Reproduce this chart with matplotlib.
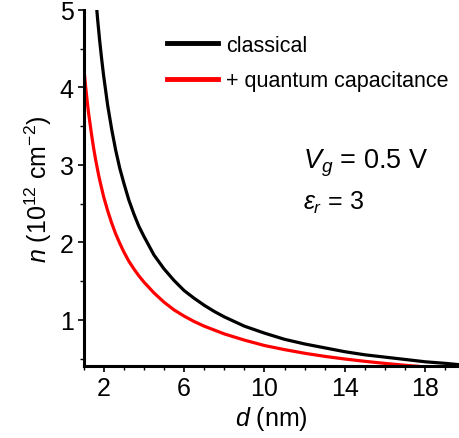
import matplotlib
matplotlib.use('Agg')
import matplotlib.pyplot as plt
from matplotlib.ticker import MultipleLocator, FixedLocator

plt.rcParams['font.family'] = ['Liberation Sans', 'DejaVu Sans']
plt.rcParams['mathtext.fontset'] = 'custom'
plt.rcParams['mathtext.rm'] = 'Liberation Sans'
plt.rcParams['mathtext.it'] = 'Liberation Sans:italic'

# thickness d (nm) and carrier density n (1e12 cm^-2)
d_classical = [1.5, 1.6, 1.7, 1.8, 1.9, 2.0, 2.2, 2.4, 2.6, 2.8, 3.0, 3.25, 3.5, 3.75, 4, 4.5, 5, 5.5,
               6, 6.5, 7, 7.5, 8, 9, 10, 11, 12, 13, 14, 15, 16, 17, 18, 19, 20]
n_classical = [5.53, 5.19, 4.88, 4.61, 4.37, 4.15, 3.77, 3.46, 3.19, 2.96, 2.77, 2.55, 2.37, 2.21,
               2.08, 1.84, 1.66, 1.51, 1.38, 1.28, 1.19, 1.11, 1.04, 0.92, 0.83, 0.75, 0.69, 0.64,
               0.59, 0.55, 0.52, 0.49, 0.46, 0.44, 0.415]
d_quantum = [1, 1.1, 1.2, 1.25, 1.4, 1.5, 1.6, 1.75, 1.8, 2, 2.2, 2.4, 2.5, 2.6, 2.8, 3, 3.25, 3.5,
             3.75, 4, 4.5, 5, 5.5, 6, 6.5, 7, 7.5, 8, 9, 10, 11, 12, 13, 14, 15, 16, 17, 18, 19, 20]
n_quantum = [4.29, 4.02, 3.78, 3.67, 3.39, 3.22, 3.07, 2.87, 2.81, 2.59, 2.41, 2.25, 2.18, 2.11,
             1.99, 1.88, 1.76, 1.66, 1.57, 1.49, 1.35, 1.23, 1.13, 1.05, 0.98, 0.92, 0.87, 0.82,
             0.74, 0.67, 0.617, 0.57, 0.53, 0.496, 0.466, 0.439, 0.415, 0.394, 0.375, 0.357]

fig = plt.figure(figsize=(4.59, 4.39), dpi=100)
ax = fig.add_axes([0.182, 0.163, 0.819, 0.812])

ax.plot(d_classical, n_classical, color='black', lw=2.3, label='classical')
ax.plot(d_quantum, n_quantum, color='#ff0000', lw=2.3, label='+ quantum capacitance')

ax.set_xlim(1, 19.7)
ax.set_ylim(0.4, 5)
ax.xaxis.set_major_locator(FixedLocator([2, 6, 10, 14, 18]))
ax.xaxis.set_minor_locator(MultipleLocator(1))
ax.yaxis.set_major_locator(MultipleLocator(1))
ax.yaxis.set_minor_locator(MultipleLocator(0.5))

for s in ['top', 'right']:
    ax.spines[s].set_visible(False)
for s in ['left', 'bottom']:
    ax.spines[s].set_linewidth(2.2)
ax.tick_params(which='major', direction='out', length=4, width=1.2, labelsize=18, pad=3)
ax.tick_params(which='minor', direction='out', length=3, width=1.0)

ax.set_xlabel(r'$d$ (nm)', fontsize=18, labelpad=3)
ax.set_ylabel(r'$n$ (10$^{12}$ cm$^{-2}$)', fontsize=18, labelpad=4)

leg = ax.legend(loc='upper left', bbox_to_anchor=(0.17, 0.985), frameon=False, fontsize=15.5,
                handlelength=2.4, handletextpad=0.35, labelspacing=0.68)
for line in leg.get_lines():
    line.set_linewidth(3.5)

ax.text(303, 439 - 163, r'$V_g$ = 0.5 V', transform=None, fontsize=19.5, va='center', ha='left')
ax.text(303, 439 - 203, r'$\varepsilon_r$ = 3', transform=None, fontsize=18, va='center', ha='left')

fig.savefig('out.png', dpi=100)
